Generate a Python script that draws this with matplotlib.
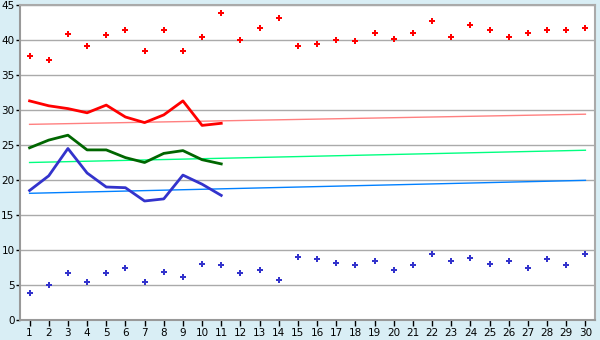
import matplotlib
matplotlib.use("Agg")
import matplotlib.pyplot as plt

# days on the x axis
days = list(range(1, 31))

# scattered points
red_points = [37.7, 37.2, 40.8, 39.2, 40.7, 41.4, 38.4, 41.5, 38.4, 40.4,
              43.8, 40.0, 41.7, 43.2, 39.1, 39.4, 40.0, 39.8, 41.0, 40.1,
              41.0, 42.7, 40.4, 42.2, 41.4, 40.4, 41.0, 41.4, 41.4, 41.7]
blue_points = [3.8, 5.0, 6.7, 5.4, 6.7, 7.4, 5.4, 6.8, 6.2, 8.0,
               7.8, 6.7, 7.1, 5.7, 9.0, 8.7, 8.2, 7.8, 8.4, 7.2,
               7.8, 9.4, 8.4, 8.8, 8.0, 8.5, 7.4, 8.7, 7.8, 9.4]

# lines for the first 11 days
line_days = list(range(1, 12))
red_line = [31.3, 30.6, 30.2, 29.6, 30.7, 29.0, 28.2, 29.3, 31.3, 27.8, 28.1]
green_line = [24.6, 25.7, 26.4, 24.3, 24.3, 23.2, 22.5, 23.8, 24.2, 22.9, 22.3]
blue_line = [18.5, 20.6, 24.5, 21.0, 19.0, 18.9, 17.0, 17.3, 20.7, 19.4, 17.8]

# trend lines (start, end)
trend_days = [1, 30]
red_trend = [27.95, 29.4]
green_trend = [22.5, 24.25]
blue_trend = [18.1, 19.95]

fig = plt.figure(figsize=(6, 3.4), dpi=100)
fig.patch.set_facecolor("#D9EEF5")
ax = fig.add_axes([20 / 600, 20 / 340, 575 / 600, 315 / 340])
ax.set_facecolor("white")

# grid
for v in range(5, 50, 5):
    ax.axhline(v, color="#AAAAAA", linewidth=1, zorder=1)

# trends
ax.plot(trend_days, red_trend, color="#FF8080", linewidth=1, zorder=2)
ax.plot(trend_days, green_trend, color="#00FF80", linewidth=1, zorder=2)
ax.plot(trend_days, blue_trend, color="#0080FF", linewidth=1, zorder=2)

# lines
ax.plot(line_days, red_line, color="#FF0000", linewidth=2, zorder=3)
ax.plot(line_days, green_line, color="#006600", linewidth=2, zorder=3)
ax.plot(line_days, blue_line, color="#3333CC", linewidth=2, zorder=3)

# points
ax.plot(days, red_points, linestyle="none", marker="P", markersize=5,
        color="#FF0000", markeredgewidth=0, zorder=4)
ax.plot(days, blue_points, linestyle="none", marker="P", markersize=5,
        color="#3333CC", markeredgewidth=0, zorder=4)

ax.set_xlim(0.5, 30.5)
ax.set_ylim(0, 45)
ax.set_xticks(days)
ax.set_yticks(range(0, 50, 5))

for side in ["left", "bottom", "right", "top"]:
    ax.spines[side].set_color("#AAAAAA")
    ax.spines[side].set_linewidth(1.5)
ax.spines["left"].set_color("#999999")
ax.spines["bottom"].set_color("#999999")

ax.tick_params(axis="both", colors="black", labelsize=7.5, length=3, width=1)
ax.tick_params(axis="y", pad=1)
ax.tick_params(axis="x", length=4, pad=2)

fig.savefig("out.png", dpi=100, facecolor=fig.get_facecolor())
